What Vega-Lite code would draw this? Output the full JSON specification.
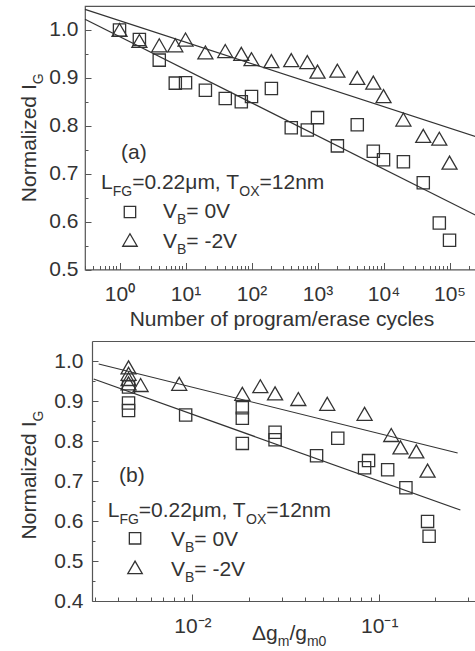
{
  "$schema": "https://vega.github.io/schema/vega-lite/v6.json",
  "padding": {"left": 17, "top": 5, "right": 0, "bottom": 0},
  "background": "white",
  "config": {
    "view": {"stroke": "#555", "strokeWidth": 1.2},
    "axis": {"domain": false, "grid": false, "labelFont": "Liberation Sans", "labelFontSize": 21, "labelColor": "#333", "tickColor": "#555", "tickWidth": 1, "domainColor": "#555", "domainWidth": 1.2, "titleFont": "Liberation Sans", "titleFontSize": 21, "titleFontWeight": "normal", "titleColor": "#333", "labelOverlap": false, "labelFlush": false, "labelBound": false},
    "text": {"font": "Liberation Sans", "fontSize": 21, "color": "#333", "align": "left", "baseline": "alphabetic"},
    "point": {"filled": false, "strokeWidth": 1.3, "color": "#333", "opacity": 1},
    "line": {"color": "#333", "strokeWidth": 1.2}
  },
  "datasets": {
    "top": [
      {"x": 1, "v": 1.0, "s": "0V"}, {"x": 2, "v": 0.98, "s": "0V"}, {"x": 4, "v": 0.937, "s": "0V"}, {"x": 7, "v": 0.889, "s": "0V"}, {"x": 10, "v": 0.89, "s": "0V"}, {"x": 20, "v": 0.874, "s": "0V"}, {"x": 40, "v": 0.857, "s": "0V"}, {"x": 70, "v": 0.85, "s": "0V"}, {"x": 100, "v": 0.861, "s": "0V"}, {"x": 200, "v": 0.878, "s": "0V"}, {"x": 400, "v": 0.796, "s": "0V"}, {"x": 700, "v": 0.791, "s": "0V"}, {"x": 1000, "v": 0.817, "s": "0V"}, {"x": 2000, "v": 0.758, "s": "0V"}, {"x": 4000, "v": 0.802, "s": "0V"}, {"x": 7000, "v": 0.747, "s": "0V"}, {"x": 10000, "v": 0.729, "s": "0V"}, {"x": 20000, "v": 0.725, "s": "0V"}, {"x": 40000, "v": 0.681, "s": "0V"}, {"x": 70000, "v": 0.597, "s": "0V"}, {"x": 100000, "v": 0.561, "s": "0V"},
      {"x": 1, "v": 1.0, "s": "-2V"}, {"x": 2, "v": 0.977, "s": "-2V"}, {"x": 4, "v": 0.968, "s": "-2V"}, {"x": 7, "v": 0.968, "s": "-2V"}, {"x": 10, "v": 0.98, "s": "-2V"}, {"x": 20, "v": 0.953, "s": "-2V"}, {"x": 40, "v": 0.956, "s": "-2V"}, {"x": 70, "v": 0.95, "s": "-2V"}, {"x": 100, "v": 0.939, "s": "-2V"}, {"x": 200, "v": 0.935, "s": "-2V"}, {"x": 400, "v": 0.937, "s": "-2V"}, {"x": 700, "v": 0.933, "s": "-2V"}, {"x": 1000, "v": 0.913, "s": "-2V"}, {"x": 2000, "v": 0.915, "s": "-2V"}, {"x": 4000, "v": 0.9, "s": "-2V"}, {"x": 7000, "v": 0.89, "s": "-2V"}, {"x": 10000, "v": 0.862, "s": "-2V"}, {"x": 20000, "v": 0.813, "s": "-2V"}, {"x": 40000, "v": 0.779, "s": "-2V"}, {"x": 70000, "v": 0.773, "s": "-2V"}, {"x": 100000, "v": 0.723, "s": "-2V"}
    ],
    "topfit": [
      {"x": 0.3, "v": 1.043, "s": "-2V"}, {"x": 270000, "v": 0.776, "s": "-2V"},
      {"x": 0.3, "v": 1.0224, "s": "0V"}, {"x": 270000, "v": 0.611, "s": "0V"}
    ],
    "bottom": [
      {"x": 0.00455, "v": 0.935, "s": "0V"}, {"x": 0.00455, "v": 0.895, "s": "0V"}, {"x": 0.00455, "v": 0.876, "s": "0V"}, {"x": 0.0092, "v": 0.865, "s": "0V"}, {"x": 0.0185, "v": 0.883, "s": "0V"}, {"x": 0.0185, "v": 0.857, "s": "0V"}, {"x": 0.0185, "v": 0.794, "s": "0V"}, {"x": 0.0277, "v": 0.822, "s": "0V"}, {"x": 0.0277, "v": 0.803, "s": "0V"}, {"x": 0.0462, "v": 0.763, "s": "0V"}, {"x": 0.06, "v": 0.807, "s": "0V"}, {"x": 0.0835, "v": 0.733, "s": "0V"}, {"x": 0.0877, "v": 0.751, "s": "0V"}, {"x": 0.111, "v": 0.728, "s": "0V"}, {"x": 0.139, "v": 0.683, "s": "0V"}, {"x": 0.1815, "v": 0.599, "s": "0V"}, {"x": 0.185, "v": 0.562, "s": "0V"},
      {"x": 0.00455, "v": 0.984, "s": "-2V"}, {"x": 0.00455, "v": 0.968, "s": "-2V"}, {"x": 0.00455, "v": 0.955, "s": "-2V"}, {"x": 0.00455, "v": 0.944, "s": "-2V"}, {"x": 0.00528, "v": 0.94, "s": "-2V"}, {"x": 0.0085, "v": 0.943, "s": "-2V"}, {"x": 0.0185, "v": 0.918, "s": "-2V"}, {"x": 0.0231, "v": 0.937, "s": "-2V"}, {"x": 0.0277, "v": 0.919, "s": "-2V"}, {"x": 0.0369, "v": 0.905, "s": "-2V"}, {"x": 0.0527, "v": 0.893, "s": "-2V"}, {"x": 0.0835, "v": 0.868, "s": "-2V"}, {"x": 0.116, "v": 0.815, "s": "-2V"}, {"x": 0.13, "v": 0.784, "s": "-2V"}, {"x": 0.158, "v": 0.774, "s": "-2V"}, {"x": 0.1815, "v": 0.726, "s": "-2V"}
    ],
    "botfit": [
      {"x": 0.00315, "v": 0.9925, "s": "-2V"}, {"x": 0.263, "v": 0.77, "s": "-2V"},
      {"x": 0.00296, "v": 0.955, "s": "0V"}, {"x": 0.272, "v": 0.6275, "s": "0V"}
    ]
  },
  "concat": [
    {
      "width": 393,
      "height": 263.5,
      "resolve": {"axis": {"x": "independent", "y": "independent"}},
      "layer": [
        {
          "data": {"name": "top"},
          "mark": {"type": "point"},
          "encoding": {
            "x": {"field": "x", "type": "quantitative",
              "scale": {"type": "log", "domain": [0.3, 270000], "nice": false},
              "axis": {
                "orient": "bottom",
                "values": [1,10,100,1000,10000,100000],
                "labelExpr": "datum.value == 1 ? '10⁰' : datum.value == 10 ? '10¹' : datum.value == 100 ? '10²' : datum.value == 1000 ? '10³' : datum.value == 10000 ? '10⁴' : '10⁵'",
                "tickSize": -7,
                "labelPadding": 21,
                "title": "Number of program/erase cycles",
                "titlePadding": 4
              }
            },
            "y": {"field": "v", "type": "quantitative",
              "scale": {"domain": [0.5, 1.05], "nice": false, "zero": false},
              "axis": {
                "orient": "left",
                "values": [0.5,0.6,0.7,0.8,0.9,1.0],
                "format": ".1f",
                "tickSize": -6,
                "labelPadding": 13,
                "title": null
              }
            },
            "shape": {"field": "s", "type": "nominal", "scale": {"domain": ["0V", "-2V"], "range": ["square", "triangle-up"]}, "legend": null},
            "size": {"field": "s", "type": "nominal", "scale": {"domain": ["0V", "-2V"], "range": [150, 225]}, "legend": null}
          }
        },
        {
          "data": {"name": "topfit"},
          "mark": {"type": "line"},
          "encoding": {
            "x": {"field": "x", "type": "quantitative",
              "axis": {"orient": "bottom", "values": [0.3,0.4,0.5,0.6,0.7,0.8,0.9,2,3,4,5,6,7,8,9,20,30,40,50,60,70,80,90,200,300,400,500,600,700,800,900,2000,3000,4000,5000,6000,7000,8000,9000,20000,30000,40000,50000,60000,70000,80000,90000,200000], "labels": false, "tickSize": -4, "title": null}},
            "y": {"field": "v", "type": "quantitative",
              "axis": {"orient": "left", "values": [0.55,0.65,0.75,0.85,0.95], "labels": false, "tickSize": -3, "title": null}},
            "detail": {"field": "s", "type": "nominal"}
          }
        },
        {
          "data": {"values": [{}]},
          "encoding": {"x": {"datum": 1.054, "type": "quantitative", "axis": null}, "y": {"datum": 0.7438, "type": "quantitative", "axis": null}},
          "mark": {"type": "text", "text": "(a)", "baseline": "middle"}
        },
        {
          "data": {"values": [{}]},
          "encoding": {"x": {"datum": 0.525, "type": "quantitative", "axis": null}, "y": {"datum": 0.6674, "type": "quantitative", "axis": null}},
          "layer": [
            {"mark": {"type": "text", "text": "L"}},
            {"mark": {"type": "text", "text": "FG", "fontSize": 14, "dx": 11.7, "dy": 6.5}},
            {"mark": {"type": "text", "text": "=0.22μm, T", "dx": 31.1}},
            {"mark": {"type": "text", "text": "OX", "fontSize": 14, "dx": 138.3, "dy": 6.5}},
            {"mark": {"type": "text", "text": "=12nm", "dx": 158.5}}
          ]
        },
        {
          "data": {"values": [{}]},
          "encoding": {"x": {"datum": 1.44, "type": "quantitative", "axis": null}, "y": {"datum": 0.62, "type": "quantitative", "axis": null}},
          "mark": {"type": "point", "shape": "square", "size": 130}
        },
        {
          "data": {"values": [{}]},
          "encoding": {"x": {"datum": 1.44, "type": "quantitative", "axis": null}, "y": {"datum": 0.5616, "type": "quantitative", "axis": null}},
          "mark": {"type": "point", "shape": "triangle-up", "size": 210}
        },
        {
          "data": {"values": [{}]},
          "encoding": {"x": {"datum": 4.56, "type": "quantitative", "axis": null}, "y": {"datum": 0.6081, "type": "quantitative", "axis": null}},
          "layer": [
            {"mark": {"type": "text", "text": "V"}},
            {"mark": {"type": "text", "text": "B", "fontSize": 14, "dx": 14, "dy": 6.5}},
            {"mark": {"type": "text", "text": "= 0V", "dx": 23.3}}
          ]
        },
        {
          "data": {"values": [{}]},
          "encoding": {"x": {"datum": 4.56, "type": "quantitative", "axis": null}, "y": {"datum": 0.5455, "type": "quantitative", "axis": null}},
          "layer": [
            {"mark": {"type": "text", "text": "V"}},
            {"mark": {"type": "text", "text": "B", "fontSize": 14, "dx": 14, "dy": 6.5}},
            {"mark": {"type": "text", "text": "= -2V", "dx": 23.3}}
          ]
        },
        {
          "data": {"values": [{}]},
          "encoding": {"x": {"datum": 0.3, "type": "quantitative", "axis": null}, "y": {"datum": 0.775, "type": "quantitative", "axis": null}},
          "layer": [
            {"mark": {"type": "text", "text": "Normalized I", "angle": 270, "dx": -64.4, "dy": -49.5}},
            {"mark": {"type": "text", "text": "G", "angle": 270, "fontSize": 14, "dx": 53.5, "dy": -42.5}}
          ]
        }
      ]
    },
    {
      "width": 393,
      "height": 260,
      "view": {"stroke": null},
      "resolve": {"axis": {"x": "independent", "y": "independent"}},
      "layer": [
        {
          "data": {"name": "bottom"},
          "mark": {"type": "point"},
          "encoding": {
            "x": {"field": "x", "type": "quantitative",
              "scale": {"type": "log", "domain": [0.0029, 0.338], "nice": false, "range": [7, 393]},
              "axis": {
                "orient": "bottom",
                "domain": true,
                "values": [0.01, 0.1],
                "labelExpr": "datum.value == 0.01 ? '10⁻²' : '10⁻¹'",
                "tickSize": -7,
                "labelPadding": 21,
                "title": null
              }
            },
            "y": {"field": "v", "type": "quantitative",
              "scale": {"domain": [0.4, 1.05], "nice": false, "zero": false},
              "axis": {
                "orient": "left",
                "offset": -7,
                "domain": true,
                "values": [0.4,0.5,0.6,0.7,0.8,0.9,1.0],
                "format": ".1f",
                "tickSize": -6,
                "labelPadding": 15,
                "title": null
              }
            },
            "shape": {"field": "s", "type": "nominal", "scale": {"domain": ["0V", "-2V"], "range": ["square", "triangle-up"]}, "legend": null},
            "size": {"field": "s", "type": "nominal", "scale": {"domain": ["0V", "-2V"], "range": [150, 225]}, "legend": null}
          }
        },
        {
          "data": {"name": "botfit"},
          "mark": {"type": "line"},
          "encoding": {
            "x": {"field": "x", "type": "quantitative",
              "axis": {"orient": "bottom", "values": [0.003,0.004,0.005,0.006,0.007,0.008,0.009,0.02,0.03,0.04,0.05,0.06,0.07,0.08,0.09,0.2,0.3], "labels": false, "tickSize": -4, "title": null}},
            "y": {"field": "v", "type": "quantitative",
              "axis": {"orient": "left", "offset": -7, "values": [0.45,0.55,0.65,0.75,0.85,0.95], "labels": false, "tickSize": -3, "title": null}},
            "detail": {"field": "s", "type": "nominal"}
          }
        },
        {
          "data": {"values": [{}]},
          "encoding": {"x": {"datum": 0.00405, "type": "quantitative", "axis": {"orient": "top", "domain": true, "ticks": false, "labels": false, "title": null}}, "y": {"datum": 0.713, "type": "quantitative", "axis": null}},
          "mark": {"type": "text", "text": "(b)", "baseline": "middle"}
        },
        {
          "data": {"values": [{}]},
          "encoding": {"x": {"datum": 0.00352, "type": "quantitative", "axis": null}, "y": {"datum": 0.609, "type": "quantitative", "axis": null}},
          "layer": [
            {"mark": {"type": "text", "text": "L"}},
            {"mark": {"type": "text", "text": "FG", "fontSize": 14, "dx": 11.7, "dy": 6.5}},
            {"mark": {"type": "text", "text": "=0.22μm, T", "dx": 31.1}},
            {"mark": {"type": "text", "text": "OX", "fontSize": 14, "dx": 138.3, "dy": 6.5}},
            {"mark": {"type": "text", "text": "=12nm", "dx": 158.5}}
          ]
        },
        {
          "data": {"values": [{}]},
          "encoding": {"x": {"datum": 0.00493, "type": "quantitative", "axis": null}, "y": {"datum": 0.5568, "type": "quantitative", "axis": null}},
          "mark": {"type": "point", "shape": "square", "size": 130}
        },
        {
          "data": {"values": [{}]},
          "encoding": {"x": {"datum": 0.00493, "type": "quantitative", "axis": null}, "y": {"datum": 0.484, "type": "quantitative", "axis": null}},
          "mark": {"type": "point", "shape": "triangle-up", "size": 210}
        },
        {
          "data": {"values": [{}]},
          "encoding": {"x": {"datum": 0.00768, "type": "quantitative", "axis": null}, "y": {"datum": 0.538, "type": "quantitative", "axis": null}},
          "layer": [
            {"mark": {"type": "text", "text": "V"}},
            {"mark": {"type": "text", "text": "B", "fontSize": 14, "dx": 14, "dy": 6.5}},
            {"mark": {"type": "text", "text": "= 0V", "dx": 23.3}}
          ]
        },
        {
          "data": {"values": [{}]},
          "encoding": {"x": {"datum": 0.00768, "type": "quantitative", "axis": null}, "y": {"datum": 0.463, "type": "quantitative", "axis": null}},
          "layer": [
            {"mark": {"type": "text", "text": "V"}},
            {"mark": {"type": "text", "text": "B", "fontSize": 14, "dx": 14, "dy": 6.5}},
            {"mark": {"type": "text", "text": "= -2V", "dx": 23.3}}
          ]
        },
        {
          "data": {"values": [{}]},
          "encoding": {"x": {"datum": 0.0029, "type": "quantitative", "axis": null}, "y": {"datum": 0.715, "type": "quantitative", "axis": null}},
          "layer": [
            {"mark": {"type": "text", "text": "Normalized I", "angle": 270, "dx": -64.4, "dy": -56.5}},
            {"mark": {"type": "text", "text": "G", "angle": 270, "fontSize": 14, "dx": 53.5, "dy": -49.5}}
          ]
        },
        {
          "data": {"values": [{}]},
          "encoding": {"x": {"datum": 0.02084, "type": "quantitative", "axis": null}, "y": {"datum": 0.4, "type": "quantitative", "axis": null}},
          "layer": [
            {"mark": {"type": "text", "text": "Δg", "dy": 39}},
            {"mark": {"type": "text", "text": "m", "fontSize": 14, "dx": 25.7, "dy": 45}},
            {"mark": {"type": "text", "text": "/g", "dx": 37.4, "dy": 39}},
            {"mark": {"type": "text", "text": "m0", "fontSize": 14, "dx": 54.9, "dy": 45}}
          ]
        }
      ]
    }
  ],
  "columns": 1,
  "align": "none",
  "spacing": 10
}
